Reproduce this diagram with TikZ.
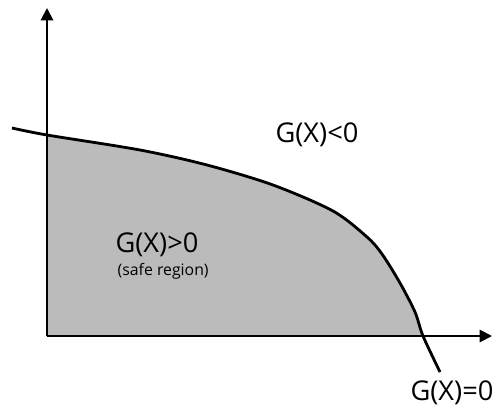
\documentclass[tikz,border=0pt]{standalone}
\usepackage{fontspec}
\setmainfont{Open Sans}
\usetikzlibrary{arrows.meta, positioning}
\definecolor{tinta}{HTML}{000000}
\definecolor{zonasegura}{HTML}{BBBBBB}
\tikzset{
  eje/.style={line width=1.1pt, color=tinta, -{Triangle[length=7pt, width=7pt]}},
  limite/.style={line width=1.6pt, color=tinta},
  rotulo/.style={font=\fontsize{15.5}{18}\selectfont, text=tinta, inner sep=0pt},
  nota/.style={font=\fontsize{9}{10}\selectfont, text=tinta, inner sep=0pt}
}
\begin{document}
\begin{tikzpicture}[x=0.02cm, y=-0.02cm]
  \useasboundingbox (0,0) rectangle (496,406);
  % zona segura bajo la curva
  \begin{scope}
    \clip (47,0) rectangle (496,336);
    \fill [zonasegura] plot [smooth, tension=0.5] coordinates {(12,128) (47,135) (140,150) (207,165) (273,185) (333,211) (367,237) (382,254) (400,283) (415,312) (423,336) (440,372)} -- (440,406) -- (0,406) -- cycle;
  \end{scope}
  % ejes
  \coordinate (origen) at (47,336);
  \coordinate (ytope) at (47,8);
  \coordinate (xtope) at (492,336);
  \draw [eje] (origen) -- (ytope);
  \draw [eje] (origen) -- (xtope);
  % curva limite
  \draw [limite] plot [smooth, tension=0.5] coordinates {(12,128) (47,135) (140,150) (207,165) (273,185) (333,211) (367,237) (382,254) (400,283) (415,312) (423,336) (440,372)};
  % rotulos
  \node (falla) [rotulo] at (317,135) {G(X)<0};
  \node (segura) [rotulo] at (157,245) {G(X)>0};
  \node (nsegura) [nota, below=3.5pt of segura.south, xshift=3.5pt] {(safe region)};
  \node (borde) [rotulo] at (452,393) {G(X)=0};
\end{tikzpicture}
\end{document}
